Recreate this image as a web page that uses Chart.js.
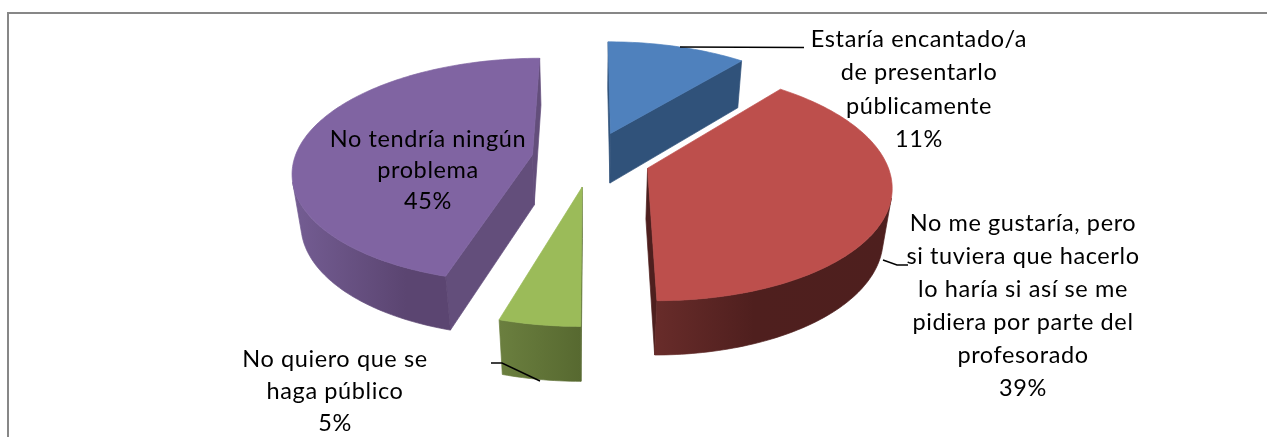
<!DOCTYPE html>
<html>
<head>
<meta charset="utf-8">
<style>html,body{margin:0;padding:0;background:#fff}canvas{display:block}</style>
<script src="https://cdn.jsdelivr.net/npm/chart.js@4"></script>
</head>
<body>
<canvas id="c" width="1267" height="437"></canvas>
<script>
const categories = [
  ["Estaría encantado/a", "de presentarlo", "públicamente"],
  ["No me gustaría, pero", "si tuviera que hacerlo", "lo haría si así se me", "pidiera por parte del", "profesorado"],
  ["No quiero que se", "haga público"],
  ["No tendría ningún", "problema"]
];
const values = [11, 39, 4.6, 45.4];
const topColors = ["#4f81bd", "#bd4f4c", "#9bbb59", "#8064a2"];
const cutColors = ["#30527a", "#4e1f1e", "#566830", "#634e7b"];
const wallStops = [
  [[0, "#30527a"], [1, "#30527a"]],
  [[0, "#682c2a"], [0.42, "#4f1f1e"], [1, "#4e1f1e"]],
  [[0, "#6b7f3f"], [1, "#576930"]],
  [[0, "#745d93"], [0.72, "#5b4571"], [1, "#5b4571"]]
];
const labelAnchors = [
  {x: 919, y: 39, dy: 33.5},
  {x: 1023, y: 223, dy: 33},
  {x: 335, y: 359, dy: 32},
  {x: 428, y: 139, dy: 31}
];
const leaders = [
  [[680, 47], [804, 47.5]],
  [[883, 260], [897, 265], [908, 265]],
  [[491, 363], [502, 363], [540, 381]]
];
const view = {xc: 591, yc: 158.7, a: 238, b: 111, k: 0.14, m: 0.03, depth: 52};
const paintOrder = [0, 3, 2, 1];
const explode = 48.5;

function project(u, v, bottom) {
  const w = 1 - view.k * v + (bottom ? view.m : 0);
  return [view.xc + view.a * u / w, view.yc + (view.b * v + (bottom ? view.depth : 0)) / w];
}
function area(q) {
  let s = 0;
  for (let i = 0; i < q.length; i++) {
    const a = q[i], b = q[(i + 1) % q.length];
    s += a[0] * b[1] - b[0] * a[1];
  }
  return s;
}
function poly(ctx, pts, fill) {
  ctx.beginPath();
  pts.forEach((p, i) => i ? ctx.lineTo(p[0], p[1]) : ctx.moveTo(p[0], p[1]));
  ctx.closePath();
  ctx.fillStyle = fill;
  ctx.strokeStyle = fill;
  ctx.lineWidth = 0.7;
  ctx.fill();
  ctx.stroke();
}
const pie3d = {
  id: "pie3d",
  beforeDraw(chart) {
    const ctx = chart.ctx;
    ctx.save();
    ctx.strokeStyle = "#878787";
    ctx.lineWidth = 2;
    ctx.beginPath();
    ctx.moveTo(8, 437);
    ctx.lineTo(8, 13);
    ctx.lineTo(1267, 13);
    ctx.stroke();
    ctx.restore();
  },
  beforeDatasetsDraw(chart) {
    const ctx = chart.ctx;
    const meta = chart.getDatasetMeta(0);
    ctx.save();
    ctx.lineJoin = "round";
    paintOrder.forEach(i => {
      const arc = meta.data[i];
      const R = arc.outerRadius;
      const off = arc.options.offset / R;
      const mid = (arc.startAngle + arc.endAngle) / 2;
      const ou = Math.cos(mid) * off, ov = Math.sin(mid) * off;
      const ring = [[ou, ov]];
      const n = Math.max(4, Math.ceil((arc.endAngle - arc.startAngle) / 0.02));
      for (let j = 0; j <= n; j++) {
        const t = arc.startAngle + (arc.endAngle - arc.startAngle) * j / n;
        ring.push([ou + Math.cos(t), ov + Math.sin(t)]);
      }
      const top = ring.map(p => project(p[0], p[1], false));
      const bot = ring.map(p => project(p[0], p[1], true));
      const last = ring.length - 1;
      const visible = j => {
        const k = (j + 1) % ring.length;
        return area([top[j], top[k], bot[k], bot[j]]) < 0;
      };
      // straight cut faces
      [0, last].forEach(j => {
        if (visible(j)) {
          const k = (j + 1) % ring.length;
          poly(ctx, [top[j], top[k], bot[k], bot[j]], cutColors[i]);
        }
      });
      // curved outer wall, one path per contiguous visible run
      let j = 1;
      while (j < last) {
        if (!visible(j)) { j++; continue; }
        let e = j;
        while (e < last && visible(e)) e++;
        const upper = top.slice(j, e + 1);
        const lower = bot.slice(j, e + 1).reverse();
        const xs = upper.concat(lower).map(p => p[0]);
        const grad = ctx.createLinearGradient(Math.min(...xs), 0, Math.max(...xs), 0);
        wallStops[i].forEach(s => grad.addColorStop(s[0], s[1]));
        poly(ctx, upper.concat(lower), grad);
        j = e;
      }
      poly(ctx, top, arc.options.backgroundColor);
    });
    ctx.restore();
    return false;
  },
  afterDraw(chart) {
    const ctx = chart.ctx;
    const total = values.reduce((a, b) => a + b, 0);
    ctx.save();
    ctx.strokeStyle = "#000";
    ctx.lineWidth = 1.4;
    leaders.forEach(l => {
      ctx.beginPath();
      l.forEach((p, i) => i ? ctx.lineTo(p[0], p[1]) : ctx.moveTo(p[0], p[1]));
      ctx.stroke();
    });
    ctx.fillStyle = "#000";
    ctx.font = '23.5px Lato';
    ctx.letterSpacing = '0.6px';
    ctx.textAlign = "center";
    ctx.textBaseline = "middle";
    categories.forEach((lines, i) => {
      const all = lines.concat(Math.round(values[i] / total * 100) + "%");
      const a = labelAnchors[i];
      all.forEach((t, j) => ctx.fillText(t, a.x, a.y + j * a.dy));
    });
    ctx.restore();
  }
};
new Chart(document.getElementById("c"), {
  type: "pie",
  data: {
    labels: categories.map(c => c.join(" ")),
    datasets: [{data: values, backgroundColor: topColors, borderWidth: 0, offset: explode, hoverOffset: 0}]
  },
  options: {
    responsive: false,
    animation: false,
    events: [],
    plugins: {legend: {display: false}, tooltip: {enabled: false}, title: {display: false}}
  },
  plugins: [pie3d]
});
</script>
</body>
</html>
